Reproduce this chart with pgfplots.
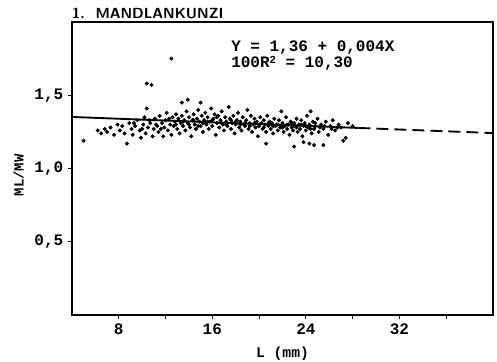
\documentclass[border=0pt]{standalone}
\usepackage{pgfplots}
\pgfplotsset{compat=1.18}
\usepackage{fontspec}
\setmainfont{Liberation Sans}
\setmonofont{Liberation Mono}

\begin{document}
\begin{tikzpicture}
\begin{axis}[
    name=ax,
    scale only axis,
    width=316pt, height=220pt,
    xmin=4, xmax=40, ymin=0, ymax=2,
    xtick={8,16,24,32},
    minor xtick={12,20,28,36},
    ytick={0.5,1,1.5},
    xtick pos=bottom, ytick pos=left,
    tick align=outside,
    major tick length=3pt, minor tick length=3pt,
    axis line style={line width=1pt},
    every tick/.style={black, line width=0.8pt},
    tick label style={font=\fontsize{12}{12}\ttfamily\bfseries},
    /pgf/number format/assume math mode=true,
    /pgf/number format/use comma,
    /pgf/number format/fixed,
    /pgf/number format/fixed zerofill,
    yticklabel style={/pgf/number format/precision=1},
    xticklabel style={/pgf/number format/precision=0, /pgf/number format/fixed zerofill=false},
    clip=false,
]
% regression line
\addplot[black, line width=1.4pt] coordinates {(4,1.352) (28.5,1.277)};
\addplot[black, line width=1.4pt, dash pattern=on 9pt off 4.5pt] coordinates {(28.5,1.277) (40,1.242)};

% observations
\addplot[only marks, mark=*, mark size=1.3pt, black] coordinates {
(5.0,1.19) (6.2,1.26) (6.5,1.24) (6.8,1.27) (7.0,1.25) (7.3,1.28) (7.6,1.23) (7.9,1.30)
(8.1,1.26) (8.3,1.29) (8.5,1.24) (8.7,1.17) (8.9,1.31) (9.1,1.27) (9.2,1.23) (9.4,1.29)
(9.6,1.33) (9.8,1.26) (9.9,1.21) (10.1,1.30) (10.2,1.35) (10.3,1.24) (10.4,1.41) (10.4,1.58)
(10.8,1.57) (10.5,1.28) (10.7,1.31) (10.9,1.22) (11.0,1.27) (11.1,1.34) (11.3,1.29) (11.4,1.25)
(11.5,1.36) (11.7,1.31) (11.8,1.22) (11.9,1.28) (12.0,1.33) (12.1,1.38) (12.2,1.26) (12.4,1.30)
(12.5,1.75) (12.5,1.23) (12.6,1.35) (12.7,1.29) (12.8,1.32) (12.9,1.37) (13.0,1.27) (13.1,1.34)
(13.2,1.24) (13.3,1.31) (13.4,1.45) (13.4,1.36) (13.5,1.29) (13.6,1.33) (13.7,1.26) (13.8,1.39)
(13.9,1.47) (13.9,1.31) (14.0,1.35) (14.1,1.28) (14.2,1.22) (14.3,1.33) (14.4,1.37) (14.5,1.30)
(14.6,1.27) (14.7,1.34) (14.8,1.40) (14.9,1.32) (15.0,1.45) (15.0,1.29) (15.1,1.36) (15.2,1.25)
(15.3,1.33) (15.4,1.38) (15.5,1.30) (15.6,1.35) (15.7,1.27) (15.8,1.32) (15.9,1.41) (16.0,1.29)
(16.1,1.34) (16.2,1.37) (16.3,1.23) (16.4,1.31) (16.5,1.36) (16.6,1.28) (16.7,1.33) (16.8,1.39)
(16.9,1.30) (17.0,1.26) (17.1,1.35) (17.2,1.32) (17.3,1.29) (17.4,1.42) (17.5,1.34) (17.6,1.27)
(17.7,1.31) (17.8,1.36) (17.9,1.24) (18.0,1.30) (18.1,1.33) (18.2,1.38) (18.3,1.28) (18.4,1.32)
(18.5,1.26) (18.6,1.35) (18.7,1.30) (18.8,1.29) (18.9,1.33) (19.0,1.40) (19.1,1.27) (19.2,1.31)
(19.3,1.36) (19.4,1.25) (19.5,1.30) (19.6,1.34) (19.7,1.28) (19.8,1.32) (19.9,1.22) (20.0,1.29)
(20.1,1.35) (20.2,1.31) (20.3,1.27) (20.4,1.33) (20.5,1.30) (20.6,1.17) (20.6,1.25) (20.7,1.36)
(20.8,1.29) (20.9,1.32) (21.0,1.27) (21.1,1.31) (21.2,1.24) (21.3,1.34) (21.4,1.29) (21.5,1.30)
(21.6,1.26) (21.7,1.33) (21.8,1.28) (21.9,1.39) (22.0,1.31) (22.1,1.25) (22.2,1.29) (22.3,1.35)
(22.4,1.27) (22.5,1.30) (22.6,1.23) (22.7,1.32) (22.8,1.28) (22.9,1.26) (23.0,1.15) (23.0,1.31)
(23.1,1.29) (23.2,1.34) (23.3,1.25) (23.4,1.30) (23.5,1.27) (23.6,1.33) (23.7,1.22) (23.8,1.18)
(23.8,1.29) (23.9,1.31) (24.0,1.26) (24.1,1.36) (24.2,1.28) (24.3,1.17) (24.3,1.30) (24.4,1.39)
(24.5,1.24) (24.6,1.32) (24.7,1.16) (24.7,1.27) (24.8,1.29) (25.0,1.34) (25.1,1.25) (25.3,1.30)
(25.5,1.16) (25.5,1.27) (25.7,1.32) (25.9,1.23) (26.1,1.29) (26.3,1.33) (26.5,1.26) (26.8,1.30)
(27.0,1.28) (27.2,1.19) (27.4,1.21) (27.6,1.31) (28.0,1.29)
(9.3,1.31) (10.0,1.27) (10.6,1.33) (11.2,1.30) (11.6,1.27) (12.3,1.34) (12.9,1.30) (13.5,1.32)
(14.0,1.30) (14.4,1.33) (14.8,1.29) (15.2,1.31) (15.6,1.32) (16.0,1.33) (16.4,1.35) (16.8,1.31)
(17.2,1.30) (17.6,1.33) (18.0,1.32) (18.4,1.30) (18.8,1.31) (19.2,1.29) (19.6,1.31) (20.0,1.30)
(20.4,1.28) (20.8,1.31) (21.2,1.29) (21.6,1.30) (22.0,1.28) (22.4,1.30) (22.8,1.31) (23.2,1.28)
(23.6,1.30) (24.0,1.29) (24.4,1.27) (24.8,1.31) (25.2,1.28) (25.6,1.29) (26.2,1.27) (26.7,1.28)
};

\node[anchor=south west, font=\fontsize{11}{11}\sffamily\bfseries, inner sep=0pt, yshift=2pt]
  at (rel axis cs:0,1) {1.\ \ MANDLANKUNZI};
\node[anchor=west, font=\fontsize{12}{12}\ttfamily\bfseries, inner sep=0pt]
  at (axis cs:17.6,1.825) {Y = 1,36 + 0,004X};
\node[anchor=west, font=\fontsize{12}{12}\ttfamily\bfseries, inner sep=0pt]
  at (axis cs:17.6,1.72) {100R\raisebox{0.45ex}{\fontsize{8}{8}\selectfont 2} = 10,30};
\end{axis}
\node[rotate=90, font=\fontsize{10.5}{10.5}\ttfamily\bfseries, inner sep=0pt]
  at ([xshift=-40pt, yshift=-5pt]ax.west) {ML/MW};
\node[anchor=center, font=\fontsize{11}{11}\ttfamily\bfseries, inner sep=0pt]
  at ([xshift=0pt, yshift=-29pt]ax.south) {L (mm)};
\useasboundingbox ([shift={(-54pt,-35pt)}]ax.south west) rectangle ([shift={(3pt,16.5pt)}]ax.north east);
\end{tikzpicture}
\end{document}
